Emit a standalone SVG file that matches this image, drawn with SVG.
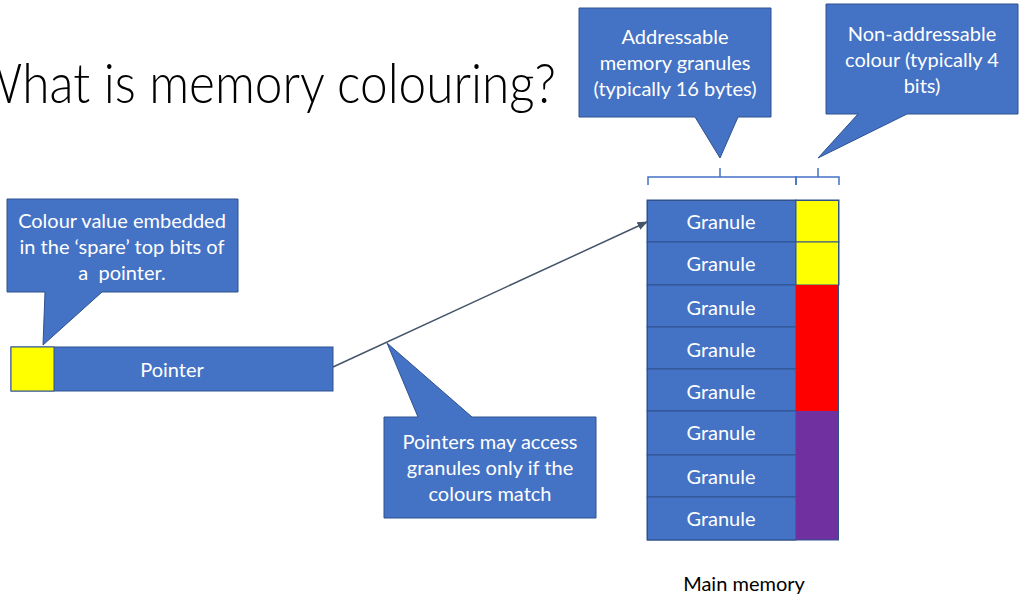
<svg xmlns="http://www.w3.org/2000/svg" width="1021" height="599" viewBox="0 0 1021 599">
  <style>
    text { font-family: Lato, "Open Sans", "Liberation Sans", sans-serif; }
    .box { fill: #4472C4; stroke: #2F528F; stroke-width: 1; }
    .lbl { fill: #FFFFFF; font-size: 20px; text-anchor: middle; }
    .cell { stroke: #2F528F; stroke-width: 1; }
    .brace { fill: none; stroke: #4472C4; stroke-width: 1.5; }
    .title { fill: #000000; font-size: 56px; font-weight: 300; }
  </style>
  <defs>
    <marker id="arrow" viewBox="0 0 10 10" refX="9" refY="5" markerWidth="7" markerHeight="7" orient="auto">
      <path d="M0,1 L10,5 L0,9 Z" fill="#44546A"/>
    </marker>
  </defs>

  <rect x="0" y="0" width="1021" height="599" fill="#FFFFFF"/>

  <!-- slide title, running off the left edge -->
  <text class="title" x="-28" y="103" textLength="584" lengthAdjust="spacingAndGlyphs">What is memory colouring?</text>

  <g id="connectors">
    <line x1="333" y1="367" x2="647" y2="222" stroke="#44546A" stroke-width="1.5" marker-end="url(#arrow)"/>
    <!-- braces over the memory columns -->
    <path class="brace" d="M648,185 V177 H720 V168 M720,177 H796 V185"/>
    <path class="brace" d="M796,185 V177 H818 V168 M818,177 H839 V185"/>
  </g>

  <g id="callout-addressable">
    <path class="box" d="M579,8 H771 V117 H738 L720,158 L695,117 H579 Z"/>
    <text class="lbl" x="675" y="44">Addressable</text>
    <text class="lbl" x="675" y="70">memory granules</text>
    <text class="lbl" x="675" y="96">(typically 16 bytes)</text>
  </g>

  <g id="callout-colour">
    <path class="box" d="M826,4 H1018 V114 H907 L818,158 L858,114 H826 Z"/>
    <text class="lbl" x="922" y="41">Non-addressable</text>
    <text class="lbl" x="922" y="67">colour (typically 4</text>
    <text class="lbl" x="922" y="93">bits)</text>
  </g>

  <g id="callout-pointer-colour">
    <path class="box" d="M7,199 H238 V292 H102 L43,345 L45,292 H7 Z"/>
    <text class="lbl" x="122" y="228">Colour value embedded</text>
    <text class="lbl" x="122" y="254">in the ‘spare’ top bits of</text>
    <text class="lbl" x="122" y="280" xml:space="preserve">a  pointer.</text>
  </g>

  <g id="pointer">
    <rect class="box" x="11" y="347" width="322" height="44"/>
    <rect class="cell" x="11" y="347" width="43" height="44" fill="#FFFF00"/>
    <text class="lbl" x="172" y="377">Pointer</text>
  </g>

  <g id="callout-access">
    <path class="box" d="M384,417 H418 L387,343 L472,417 H596 V518 H384 Z"/>
    <text class="lbl" x="490" y="449">Pointers may access</text>
    <text class="lbl" x="490" y="475">granules only if the</text>
    <text class="lbl" x="490" y="501">colours match</text>
  </g>

  <g id="memory">
    <rect class="box" x="647" y="200" width="149" height="42"/>
    <rect class="cell" x="796" y="200" width="43" height="42" fill="#FFFF00"/>
    <text class="lbl" x="721" y="229">Granule</text>

    <rect class="box" x="647" y="242" width="149" height="43"/>
    <rect class="cell" x="796" y="242" width="43" height="43" fill="#FFFF00"/>
    <text class="lbl" x="721" y="271">Granule</text>

    <rect class="box" x="647" y="285" width="149" height="42"/>
    <rect x="796" y="285" width="43" height="42" fill="#FF0000"/>
    <text class="lbl" x="721" y="315">Granule</text>

    <rect class="box" x="647" y="327" width="149" height="42"/>
    <rect x="796" y="327" width="43" height="42" fill="#FF0000"/>
    <text class="lbl" x="721" y="357">Granule</text>

    <rect class="box" x="647" y="369" width="149" height="42"/>
    <rect x="796" y="369" width="43" height="42" fill="#FF0000"/>
    <text class="lbl" x="721" y="399">Granule</text>

    <rect class="box" x="647" y="411" width="149" height="44"/>
    <rect x="796" y="411" width="43" height="44" fill="#7030A0"/>
    <text class="lbl" x="721" y="440">Granule</text>

    <rect class="box" x="647" y="455" width="149" height="42"/>
    <rect x="796" y="455" width="43" height="42" fill="#7030A0"/>
    <text class="lbl" x="721" y="484">Granule</text>

    <rect class="box" x="647" y="497" width="149" height="43"/>
    <rect x="796" y="497" width="43" height="43" fill="#7030A0"/>
    <text class="lbl" x="721" y="526">Granule</text>

    <rect x="647.5" y="200.5" width="191" height="339.5" fill="none" stroke="#2F528F" stroke-width="1"/>
    <text x="744" y="591" font-size="20" fill="#000000" text-anchor="middle">Main memory</text>
  </g>
</svg>
